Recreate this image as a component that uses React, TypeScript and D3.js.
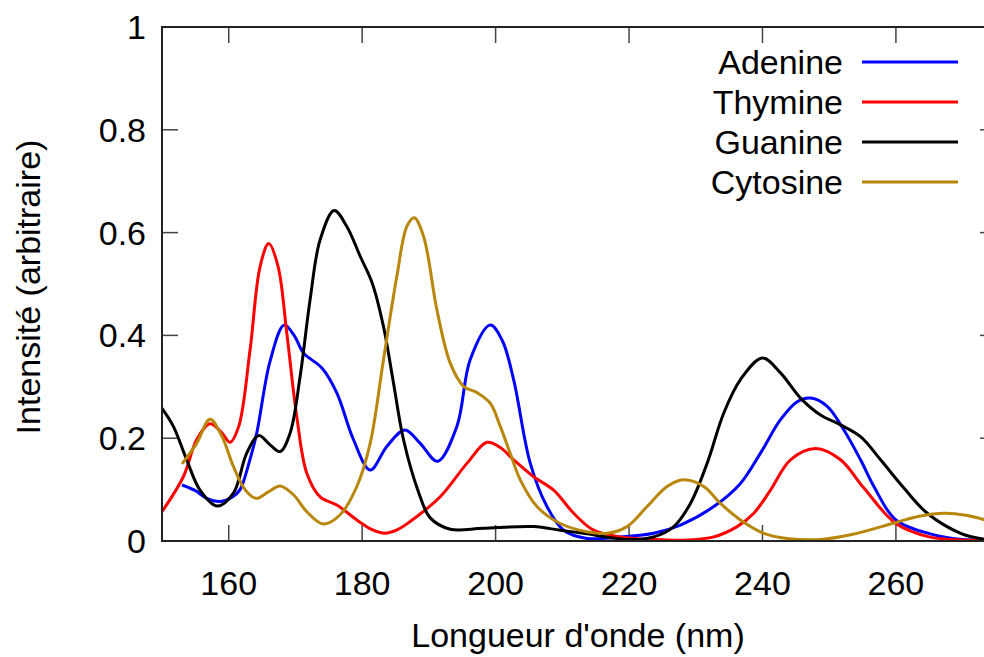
import * as d3 from "d3";

// wavelength (nm), intensity pairs
const adenine: [number, number][] = [
  [153, 0.109], [155, 0.098], [156.7, 0.083], [158.7, 0.077], [160.5, 0.085], [161.7, 0.1],
  [163, 0.15], [164.2, 0.21], [166.2, 0.35], [168.3, 0.42], [169.8, 0.4], [171.2, 0.366],
  [174, 0.336], [176.2, 0.288], [178.7, 0.197], [181.2, 0.138], [183.7, 0.184], [186.4, 0.216],
  [188.7, 0.19], [191.3, 0.155], [194.2, 0.223], [196.2, 0.353], [199.2, 0.42], [201, 0.39],
  [202.7, 0.314], [205.2, 0.151], [207.7, 0.067], [210.2, 0.021], [213.7, 0.005], [218.7, 0.008],
  [223.7, 0.015], [227.7, 0.031], [232.7, 0.067], [236.7, 0.112], [239.7, 0.171], [242.7, 0.236],
  [245.2, 0.271], [247.2, 0.278], [249.7, 0.262], [252.2, 0.216], [254.7, 0.158], [256.7, 0.106],
  [260, 0.041], [265.7, 0.012], [270, 0.003], [275, 0.001],
];

const thymine: [number, number][] = [
  [150, 0.057], [153.2, 0.125], [155.2, 0.197], [157.2, 0.228], [159, 0.21], [160.2, 0.192],
  [161.5, 0.223], [163.2, 0.372], [164.7, 0.534], [166, 0.579], [167.4, 0.534], [168.7, 0.405],
  [170.2, 0.242], [171.7, 0.132], [173.7, 0.086], [176.2, 0.07], [179.2, 0.041], [181.5, 0.022],
  [183.4, 0.015], [185.3, 0.022], [187.2, 0.038], [191.7, 0.086], [195.7, 0.151], [198.7, 0.192],
  [200.7, 0.182], [202.7, 0.158], [205.7, 0.125], [208.7, 0.099], [211.7, 0.054], [214.7, 0.021],
  [218.7, 0.008], [223.7, 0.003], [228.7, 0.002], [232.7, 0.008], [236.2, 0.028], [238.7, 0.054],
  [241.2, 0.099], [244.2, 0.158], [248, 0.18], [251.7, 0.158], [255.2, 0.103], [260, 0.034],
  [265, 0.008], [270, 0.002], [275, 0.001],
];

const guanine: [number, number][] = [
  [150, 0.258], [151.7, 0.223], [153.7, 0.158], [155.7, 0.099], [158.3, 0.068], [160.7, 0.093],
  [162.7, 0.171], [164.5, 0.205], [166.2, 0.187], [167.7, 0.174], [169.2, 0.21], [170.7, 0.32],
  [172.2, 0.47], [173.7, 0.586], [175.8, 0.643], [177.7, 0.612], [179.7, 0.554], [181.5, 0.502],
  [183.2, 0.417], [184.7, 0.307], [186.2, 0.197], [188.4, 0.097], [190.2, 0.045], [193.2, 0.023],
  [198.2, 0.025], [205.7, 0.028], [209.7, 0.021], [213.7, 0.014], [219.7, 0.003], [223.7, 0.008],
  [226.7, 0.028], [229.2, 0.073], [231.7, 0.151], [234.2, 0.249], [236.7, 0.314], [240, 0.356],
  [242.7, 0.327], [245.7, 0.278], [248.7, 0.245], [251.7, 0.226], [254.7, 0.203], [257.7, 0.158],
  [261.2, 0.103], [264.7, 0.054], [269.7, 0.015], [273, 0.004], [275, 0.002],
];

const cytosine: [number, number][] = [
  [153, 0.15], [155.2, 0.19], [157.2, 0.237], [159, 0.203], [160.7, 0.145], [162.5, 0.099],
  [164.1, 0.083], [166, 0.096], [167.7, 0.107], [169.7, 0.09], [171.7, 0.057], [174.2, 0.033],
  [176.7, 0.051], [179.2, 0.106], [181.2, 0.19], [183.2, 0.353], [185.2, 0.515], [186.7, 0.612],
  [187.8, 0.629], [189.2, 0.593], [191.2, 0.45], [193.2, 0.346], [195.2, 0.301], [197.2, 0.289],
  [199.2, 0.268], [200.7, 0.223], [202.2, 0.17], [203.7, 0.119], [206.2, 0.067], [209.7, 0.034],
  [213.7, 0.018], [216.7, 0.015], [219.7, 0.028], [222.7, 0.067], [225.7, 0.106], [228.2, 0.119],
  [231.2, 0.106], [233.7, 0.073], [236.7, 0.041], [240.2, 0.015], [243.7, 0.005], [248.7, 0.003],
  [253.2, 0.012], [260, 0.036], [263.5, 0.048], [267.2, 0.054], [270.5, 0.05], [275, 0.035],
];

const seriesNames = ["Adenine", "Thymine", "Guanine", "Cytosine"];
const seriesColors = ["#0000ff", "#ff0000", "#000000", "#b8860b"];
const seriesData = [adenine, thymine, guanine, cytosine];

const xTicks = [160, 180, 200, 220, 240, 260];
const yTicks = [0, 0.2, 0.4, 0.6, 0.8, 1];

const W = 984;
const H = 657;
const font = "'Liberation Sans', Arial, sans-serif";

export default function App() {
  const margin = { left: 162, top: 27, right: 996, bottom: 541 };
  const x = d3.scaleLinear().domain([150, 275]).range([margin.left, margin.right]);
  const y = d3.scaleLinear().domain([0, 1]).range([margin.bottom, margin.top]);

  const line = d3
    .line<[number, number]>()
    .x((d) => x(d[0]))
    .y((d) => y(d[1]))
    .curve(d3.curveCatmullRom.alpha(0.5));

  const tickLen = 16;

  return (
    <svg
      width={W}
      height={H}
      style={{ position: "absolute", left: 0, top: 0, background: "#fff" }}
      fontFamily={font}
    >
      {/* ticks, mirrored on all four sides */}
      {xTicks.map((t) => (
        <g key={"x" + t} stroke="#444" strokeWidth={1.5}>
          <line x1={x(t)} x2={x(t)} y1={margin.bottom} y2={margin.bottom - tickLen} />
          <line x1={x(t)} x2={x(t)} y1={margin.top} y2={margin.top + tickLen} />
        </g>
      ))}
      {yTicks.map((t) => (
        <g key={"y" + t} stroke="#444" strokeWidth={1.5}>
          <line x1={margin.left} x2={margin.left + tickLen} y1={y(t)} y2={y(t)} />
          <line x1={margin.right} x2={margin.right - tickLen} y1={y(t)} y2={y(t)} />
        </g>
      ))}

      {/* curves */}
      {seriesData.map((data, i) => (
        <path
          key={seriesNames[i]}
          d={line(data) ?? ""}
          fill="none"
          stroke={seriesColors[i]}
          strokeWidth={3}
          strokeLinejoin="round"
        />
      ))}

      {/* frame */}
      <rect
        x={margin.left}
        y={margin.top}
        width={margin.right - margin.left}
        height={margin.bottom - margin.top}
        fill="none"
        stroke="#222"
        strokeWidth={2}
      />

      {/* tick labels */}
      {xTicks.map((t) => (
        <text key={"xl" + t} x={x(t)} y={595} textAnchor="middle" fontSize={34}>
          {t}
        </text>
      ))}
      {yTicks.map((t) => (
        <text key={"yl" + t} x={146} y={y(t)} dy="0.35em" textAnchor="end" fontSize={34}>
          {t}
        </text>
      ))}

      {/* axis titles */}
      <text x={578} y={647} textAnchor="middle" fontSize={34}>
        Longueur d'onde (nm)
      </text>
      <text
        transform="translate(28,287) rotate(-90)"
        textAnchor="middle"
        dy="0.35em"
        fontSize={34}
      >
        Intensité (arbitraire)
      </text>

      {/* legend */}
      {seriesNames.map((name, i) => {
        const ly = 62 + i * 40;
        return (
          <g key={"lg" + name}>
            <text x={843} y={ly} dy="0.35em" textAnchor="end" fontSize={34}>
              {name}
            </text>
            <line x1={862} x2={958} y1={ly} y2={ly} stroke={seriesColors[i]} strokeWidth={3} />
          </g>
        );
      })}
    </svg>
  );
}
